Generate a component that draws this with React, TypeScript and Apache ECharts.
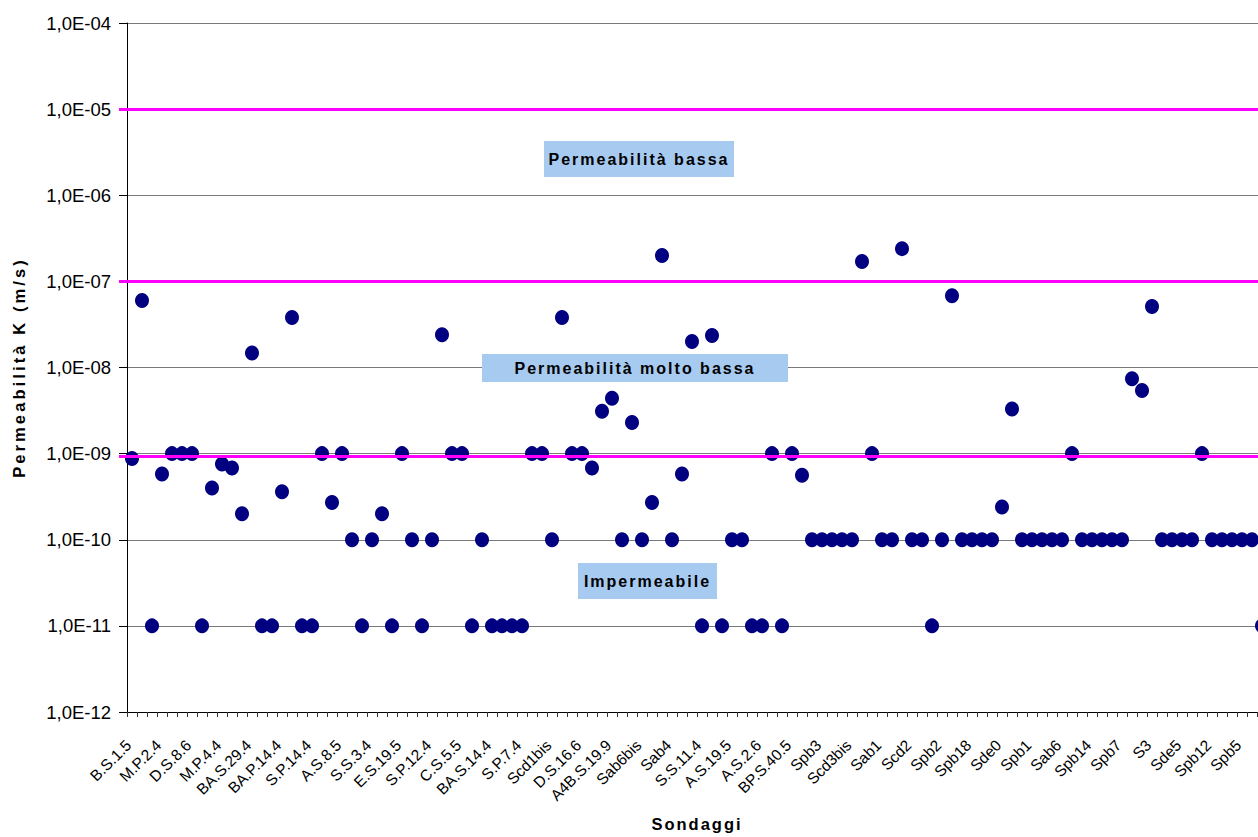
import React, { useEffect, useRef } from 'react';
import * as echarts from 'echarts';

// Every third borehole label is printed on the axis
const SHOWN_LABELS = [
  'B.S.1.5', 'M.P.2.4', 'D.S.8.6', 'M.P.4.4', 'BA.S.29.4', 'BA.P.14.4', 'S.P.14.4', 'A.S.8.5',
  'S.S.3.4', 'E.S.19.5', 'S.P.12.4', 'C.S.5.5', 'BA.S.14.4', 'S.P.7.4', 'Scd1bis', 'D.S.16.6',
  'A4B.S.19.9', 'Sab6bis', 'Sab4', 'S.S.11.4', 'A.S.19.5', 'A.S.2.6', 'BP.S.40.5', 'Spb3',
  'Scd3bis', 'Sab1', 'Scd2', 'Spb2', 'Spb18', 'Sde0', 'Spb1', 'Sab6', 'Spb14', 'Spb7', 'S3',
  'Sde5', 'Spb12', 'Spb5',
];

// Permeability K (m/s) per borehole
const K_VALUES = [
  8.8e-10, 6e-8, 1e-11, 5.8e-10, 1e-9, 1e-9, 1e-9, 1e-11, 4.0e-10, 7.6e-10,
  6.8e-10, 2.0e-10, 1.47e-8, 1e-11, 1e-11, 3.6e-10, 3.8e-8, 1e-11, 1e-11, 1e-9,
  2.7e-10, 1e-9, 1e-10, 1e-11, 1e-10, 2.0e-10, 1e-11, 1e-9, 1e-10, 1e-11,
  1e-10, 2.4e-8, 1e-9, 1e-9, 1e-11, 1e-10, 1e-11, 1e-11, 1e-11, 1e-11,
  1e-9, 1e-9, 1e-10, 3.8e-8, 1e-9, 1e-9, 6.8e-10, 3.1e-9, 4.4e-9, 1e-10,
  2.3e-9, 1e-10, 2.7e-10, 2.0e-7, 1e-10, 5.8e-10, 2.0e-8, 1e-11, 2.35e-8, 1e-11,
  1e-10, 1e-10, 1e-11, 1e-11, 1e-9, 1e-11, 1e-9, 5.6e-10, 1e-10, 1e-10,
  1e-10, 1e-10, 1e-10, 1.7e-7, 1e-9, 1e-10, 1e-10, 2.4e-7, 1e-10, 1e-10,
  1e-11, 1e-10, 6.8e-8, 1e-10, 1e-10, 1e-10, 1e-10, 2.4e-10, 3.3e-9, 1e-10,
  1e-10, 1e-10, 1e-10, 1e-10, 1e-9, 1e-10, 1e-10, 1e-10, 1e-10, 1e-10,
  7.4e-9, 5.4e-9, 5.1e-8, 1e-10, 1e-10, 1e-10, 1e-10, 1e-9, 1e-10, 1e-10,
  1e-10, 1e-10, 1e-10, 1e-11,
];

// Class limits (magenta lines)
const THRESHOLDS = [1e-5, 1e-7, 9.3e-10];

const Y_MIN = 1e-12;
const Y_MAX = 1e-4;

const CLASS_LABELS = ['Permeabilità bassa', 'Permeabilità molto bassa', 'Impermeabile'];

const FONT = "'Liberation Sans', Arial, sans-serif";

const CATEGORIES = K_VALUES.map((_, i) => (i % 3 === 0 ? SHOWN_LABELS[i / 3] ?? '' : ''));

const SPACED: Record<string, number> = {
  'Permeabilità bassa': 2,
  'Permeabilità molto bassa': 2,
  'Impermeabile': 2,
  'Permeabilità K (m/s)': 3.1,
  'Sondaggi': 2,
};

function applySpacing(el: HTMLElement) {
  el.querySelectorAll('text').forEach((t) => {
    const s = SPACED[(t.textContent || '').trim()];
    if (s != null) t.setAttribute('letter-spacing', String(s));
  });
}

function fmtExp(v: number) {
  const e = Math.round(Math.log10(v));
  const a = String(Math.abs(e)).padStart(2, '0');
  return `1,0E${e < 0 ? '-' : '+'}${a}`;
}

const BOXES = [
  { x: 544, y: 141, w: 190, h: 36 },
  { x: 482, y: 354, w: 306, h: 28 },
  { x: 578, y: 563, w: 139, h: 36 },
];

export default function App() {
  const ref = useRef<HTMLDivElement>(null);

  useEffect(() => {
    if (!ref.current) return;
    const chart = echarts.init(ref.current, undefined, { renderer: 'svg' });

    const graphics: any[] = [];
    BOXES.forEach((b, i) => {
      graphics.push({
        type: 'rect',
        z: 100,
        shape: { x: b.x, y: b.y, width: b.w, height: b.h },
        style: { fill: '#A6CAF0' },
        silent: true,
      });
      graphics.push({
        type: 'text',
        z: 101,
        x: b.x + b.w / 2,
        y: b.y + b.h / 2,
        silent: true,
        style: {
          text: CLASS_LABELS[i],
          fill: '#000',
          font: `bold 16px ${FONT}`,
          align: 'center',
          verticalAlign: 'middle',
        },
      });
    });

    chart.setOption({
      animation: false,
      backgroundColor: '#fff',
      textStyle: { fontFamily: FONT },
      grid: { left: 127, right: 13, top: 23, bottom: 122, containLabel: false },
      xAxis: {
        type: 'category',
        data: CATEGORIES,
        boundaryGap: true,
        axisLine: { show: true, lineStyle: { color: '#000', width: 1 } },
        axisTick: { show: true, interval: 0, length: 5, lineStyle: { color: '#333' } },
        axisLabel: {
          interval: 2,
          rotate: 45,
          margin: 27,
          padding: [0, 5, 0, 0],
          fontSize: 15.5,
          color: '#000',
          fontFamily: FONT,
        },
        splitLine: { show: false },
        name: 'Sondaggi',
        nameLocation: 'middle',
        nameGap: 103,
        nameTextStyle: { fontWeight: 'bold', fontSize: 16.5, color: '#000', fontFamily: FONT },
      },
      yAxis: {
        type: 'log',
        logBase: 10,
        min: Y_MIN,
        max: Y_MAX,
        splitNumber: 8,
        axisLine: { show: true, lineStyle: { color: '#000', width: 1 } },
        axisTick: { show: true, length: 8, lineStyle: { color: '#000' } },
        minorTick: { show: false },
        axisLabel: {
          formatter: (v: number) => fmtExp(v),
          fontSize: 18.5,
          color: '#000',
          margin: 16,
          fontFamily: FONT,
        },
        splitLine: { show: true, lineStyle: { color: '#7a7a7a', width: 1 } },
        name: 'Permeabilità K (m/s)',
        nameLocation: 'middle',
        nameRotate: 90,
        nameGap: 100,
        nameTextStyle: { fontWeight: 'bold', fontSize: 16.5, color: '#000', fontFamily: FONT },
      },
      series: [
        {
          type: 'scatter',
          data: K_VALUES,
          symbol: 'circle',
          symbolSize: [14, 15],
          itemStyle: { color: '#000080', opacity: 1 },
          silent: true,
          markLine: {
            silent: true,
            symbol: ['none', 'none'],
            label: { show: false },
            lineStyle: { color: '#FF00FF', width: 3, type: 'solid', opacity: 1 },
            data: THRESHOLDS.map((v) => [
              { x: 119, yAxis: v },
              { x: 1280, yAxis: v },
            ]),
          },
        },
      ],
      graphic: { elements: graphics },
    });

    const el = ref.current;
    applySpacing(el);
    chart.on('finished', () => applySpacing(el));
    const t = setTimeout(() => applySpacing(el), 50);

    return () => {
      clearTimeout(t);
      chart.dispose();
    };
  }, []);

  return (
    <div
      style={{
        position: 'fixed',
        left: 0,
        top: 0,
        width: 1258,
        height: 837,
        overflow: 'hidden',
        background: '#fff',
      }}
    >
      <div ref={ref} style={{ width: 1280, height: 837 }} />
    </div>
  );
}
